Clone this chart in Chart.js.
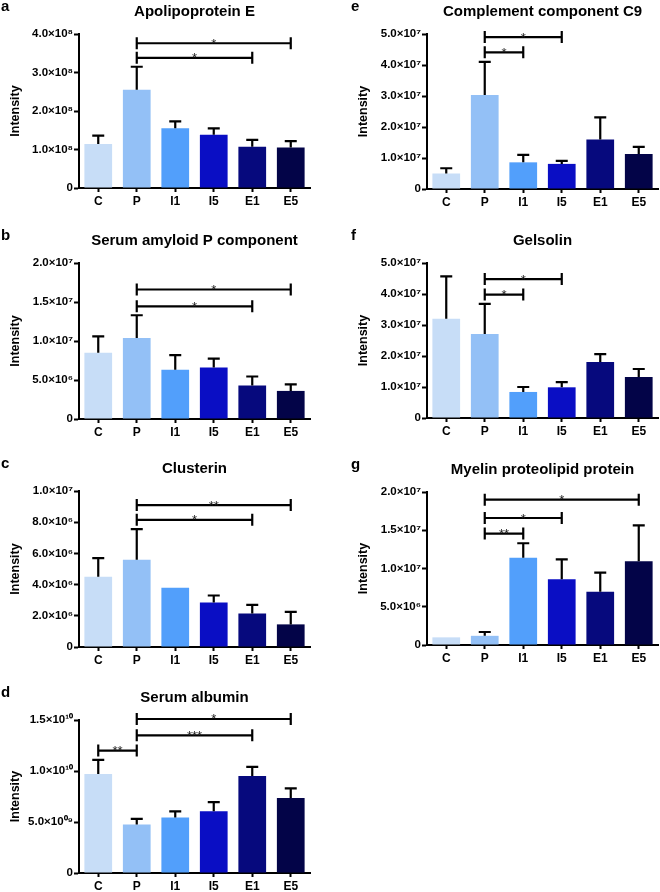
<!DOCTYPE html>
<html>
<head>
<meta charset="utf-8">
<script src="https://cdn.jsdelivr.net/npm/chart.js@4/dist/chart.umd.min.js"></script>
<style>
  html, body { margin: 0; padding: 0; background: #fff; overflow: hidden; }
  #wrap { position: relative; width: 660px; height: 892px; }
  canvas { position: absolute; }
</style>
</head>
<body>
<div id="wrap"></div>
<script>
const groups = ['C', 'P', 'I1', 'I5', 'E1', 'E5'];
const barColors = ['#c7ddf7', '#93c0f6', '#529ffb', '#0a0ec4', '#06097d', '#030448'];

// a - Apolipoprotein E
const meanA = [1.14e8, 2.55e8, 1.55e8, 1.38e8, 1.07e8, 1.05e8];
const errA  = [0.22e8, 0.60e8, 0.18e8, 0.17e8, 0.18e8, 0.17e8];
const ticksA = ['0', '1.0×10⁸', '2.0×10⁸', '3.0×10⁸', '4.0×10⁸'];
const sigA = [[1, 5, 3.76e8, '*'], [1, 4, 3.38e8, '*']];   // [from, to, height, stars]

// b - Serum amyloid P component
const meanB = [8.5e6, 10.4e6, 6.3e6, 6.6e6, 4.3e6, 3.6e6];
const errB  = [2.1e6, 2.9e6, 1.9e6, 1.15e6, 1.15e6, 0.85e6];
const ticksB = ['0', '5.0×10⁶', '1.0×10⁷', '1.5×10⁷', '2.0×10⁷'];
const sigB = [[1, 5, 1.66e7, '*'], [1, 4, 1.445e7, '*']];

// c - Clusterin
const meanC = [4.5e6, 5.6e6, 3.8e6, 2.85e6, 2.15e6, 1.45e6];
const errC  = [1.2e6, 1.95e6, 0, 0.45e6, 0.55e6, 0.8e6];
const ticksC = ['0', '2.0×10⁶', '4.0×10⁶', '6.0×10⁶', '8.0×10⁶', '1.0×10⁷'];
const sigC = [[1, 5, 9.1e6, '**'], [1, 4, 8.15e6, '*']];

// d - Serum albumin
const meanD = [9.7e9, 4.75e9, 5.45e9, 6.05e9, 9.5e9, 7.35e9];
const errD  = [1.4e9, 0.55e9, 0.6e9, 0.9e9, 0.9e9, 0.95e9];
const ticksD = ['0', '5.0×10⁰⁹', '1.0×10¹⁰', '1.5×10¹⁰'];
const sigD = [[0, 1, 12.0e9, '**'], [1, 4, 13.5e9, '***'], [1, 5, 15.1e9, '*']];

// e - Complement component C9
const meanE = [5.0e6, 30.3e6, 8.6e6, 8.1e6, 16.0e6, 11.3e6];
const errE  = [1.7e6, 10.7e6, 2.4e6, 1.0e6, 7.1e6, 2.3e6];
const ticksE = ['0', '1.0×10⁷', '2.0×10⁷', '3.0×10⁷', '4.0×10⁷', '5.0×10⁷'];
const sigE = [[1, 3, 4.9e7, '*'], [1, 2, 4.41e7, '*']];

// f - Gelsolin
const meanF = [32.0e6, 27.1e6, 8.4e6, 9.9e6, 18.1e6, 13.2e6];
const errF  = [13.7e6, 9.7e6, 1.6e6, 1.7e6, 2.5e6, 2.6e6];
const ticksF = ['0', '1.0×10⁷', '2.0×10⁷', '3.0×10⁷', '4.0×10⁷', '5.0×10⁷'];
const sigF = [[1, 3, 4.48e7, '*'], [1, 2, 3.98e7, '*']];

// g - Myelin proteolipid protein
const meanG = [1.0e6, 1.2e6, 11.4e6, 8.6e6, 6.95e6, 10.95e6];
const errG  = [0, 0.5e6, 1.9e6, 2.6e6, 2.5e6, 4.7e6];
const ticksG = ['0', '5.0×10⁶', '1.0×10⁷', '1.5×10⁷', '2.0×10⁷'];
const sigG = [[1, 5, 1.9e7, '*'], [1, 3, 1.66e7, '*'], [1, 2, 1.457e7, '**']];

const FONT = '"Liberation Sans", Arial, sans-serif';

// col 0 = left column, col 1 = right column; top = pixel of the y max, plotH = axis height
const panels = [
  { letter: 'a', title: 'Apolipoprotein E', mean: meanA, err: errA, ticks: ticksA, sig: sigA, max: 4e8, step: 1e8, col: 0, top: 34, plotH: 154 },
  { letter: 'b', title: 'Serum amyloid P component', mean: meanB, err: errB, ticks: ticksB, sig: sigB, max: 2e7, step: 5e6, col: 0, top: 263, plotH: 156 },
  { letter: 'c', title: 'Clusterin', mean: meanC, err: errC, ticks: ticksC, sig: sigC, max: 1e7, step: 2e6, col: 0, top: 491, plotH: 156 },
  { letter: 'd', title: 'Serum albumin', mean: meanD, err: errD, ticks: ticksD, sig: sigD, max: 1.5e10, step: 5e9, col: 0, top: 720, plotH: 153 },
  { letter: 'e', title: 'Complement component C9', mean: meanE, err: errE, ticks: ticksE, sig: sigE, max: 5e7, step: 1e7, col: 1, top: 34, plotH: 155 },
  { letter: 'f', title: 'Gelsolin', mean: meanF, err: errF, ticks: ticksF, sig: sigF, max: 5e7, step: 1e7, col: 1, top: 263, plotH: 155 },
  { letter: 'g', title: 'Myelin proteolipid protein', mean: meanG, err: errG, ticks: ticksG, sig: sigG, max: 2e7, step: 5e6, col: 1, top: 492, plotH: 153 }
];

function decorPlugin(p) {
  return {
    id: 'decor' + p.letter,
    afterDatasetsDraw(chart) {
      const ctx = chart.ctx;
      const xs = chart.scales.x, ys = chart.scales.y;
      const area = chart.chartArea;
      ctx.save();
      ctx.strokeStyle = '#000';
      ctx.lineWidth = 2.2;
      ctx.lineCap = 'butt';

      // one-sided error bars
      p.mean.forEach((m, i) => {
        if (!p.err[i]) return;
        const x = xs.getPixelForValue(i);
        const y0 = ys.getPixelForValue(m);
        const y1 = ys.getPixelForValue(m + p.err[i]);
        ctx.beginPath();
        ctx.moveTo(x, y0); ctx.lineTo(x, y1);
        ctx.moveTo(x - 6, y1); ctx.lineTo(x + 6, y1);
        ctx.stroke();
      });

      // significance brackets
      p.sig.forEach(([a, b, v, stars]) => {
        const x0 = xs.getPixelForValue(a), x1 = xs.getPixelForValue(b);
        const y = ys.getPixelForValue(v);
        ctx.beginPath();
        ctx.moveTo(x0, y); ctx.lineTo(x1, y);
        ctx.moveTo(x0, y - 6); ctx.lineTo(x0, y + 6);
        ctx.moveTo(x1, y - 6); ctx.lineTo(x1, y + 6);
        ctx.stroke();
        ctx.fillStyle = '#222';
        ctx.font = '13px ' + FONT;
        ctx.textAlign = 'center';
        ctx.textBaseline = 'alphabetic';
        ctx.fillText(stars, (x0 + x1) / 2, y + 4.5);
      });

      // title and panel letter
      ctx.fillStyle = '#000';
      ctx.textBaseline = 'alphabetic';
      ctx.font = 'bold 15px ' + FONT;
      ctx.textAlign = 'center';
      ctx.fillText(p.title, (area.left + area.right) / 2, area.top - 18);
      ctx.textAlign = 'left';
      ctx.fillText(p.letter, p.col === 0 ? 1 : 21, area.top - 23);
      ctx.restore();
    }
  };
}

const wrap = document.getElementById('wrap');
panels.forEach(p => {
  const canvas = document.createElement('canvas');
  const padTop = 34, axisH = 24;
  canvas.width = 330;
  canvas.height = padTop + p.plotH + axisH;
  canvas.style.left = (p.col * 330) + 'px';
  canvas.style.top = (p.top - padTop) + 'px';
  wrap.appendChild(canvas);

  new Chart(canvas, {
    type: 'bar',
    data: {
      labels: groups,
      datasets: [{
        data: p.mean,
        backgroundColor: barColors,
        barPercentage: 0.72,
        categoryPercentage: 1
      }]
    },
    options: {
      responsive: false,
      animation: false,
      devicePixelRatio: 1,
      layout: { padding: { top: padTop, bottom: 0, left: p.col === 0 ? 0 : 18, right: p.col === 0 ? 20 : 2 } },
      plugins: { legend: { display: false }, tooltip: { enabled: false } },
      scales: {
        x: {
          offset: true,
          grid: { offset: false, drawOnChartArea: false, drawTicks: true, tickLength: 4, tickWidth: 2, tickColor: '#000' },
          border: { color: '#000', width: 2 },
          ticks: { color: '#000', padding: 2, maxRotation: 0, font: { family: FONT, size: 12, weight: 'bold' } },
          afterFit: s => { s.height = axisH; }
        },
        y: {
          min: 0,
          max: p.max,
          grid: { drawOnChartArea: false, tickLength: 5, tickWidth: 2, tickColor: '#000' },
          border: { color: '#000', width: 2 },
          ticks: {
            stepSize: p.step,
            padding: 1,
            color: '#000',
            font: { family: FONT, size: 11.5, weight: 'bold' },
            callback: (v, i) => p.ticks[i]
          },
          title: { display: true, text: 'Intensity', color: '#000', padding: { top: 8, bottom: 0 }, font: { family: FONT, size: 12.5, weight: 'bold' } },
          afterFit: s => { s.width = 79; }
        }
      }
    },
    plugins: [decorPlugin(p)]
  });
});
</script>
</body>
</html>
